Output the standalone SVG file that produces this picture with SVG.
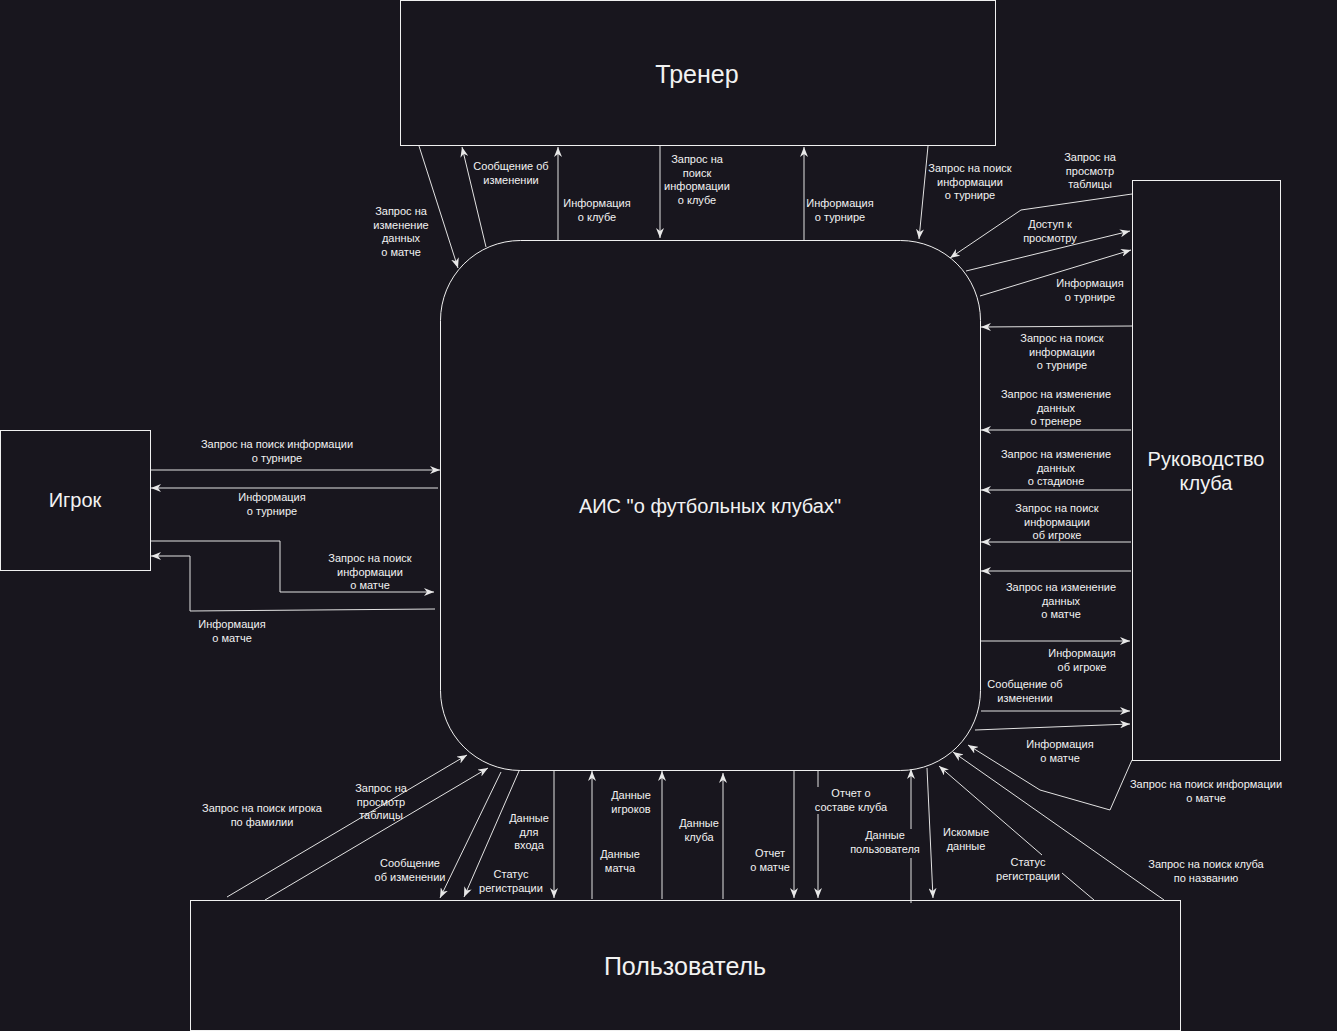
<svg xmlns="http://www.w3.org/2000/svg" width="1337" height="1031" viewBox="0 0 1337 1031">
<style>
.n{fill:#18161e;stroke:#f0f0f0;stroke-width:1}
.t{font-family:"Liberation Sans",Arial,sans-serif;fill:#f2f2f2;text-anchor:middle}
.big{font-size:25px}
.mid{font-size:20px}
.l{font-size:11px}
.c{fill:none;stroke:#e2e2e2;stroke-width:1;marker-end:url(#a)}
.s{fill:none;stroke:#e2e2e2;stroke-width:1}
</style>
<defs>
<marker id="a" viewBox="0 0 10 8" refX="10" refY="4" markerWidth="10" markerHeight="8" orient="auto" markerUnits="userSpaceOnUse">
<path d="M0,0 L10,4 L0,8 L3,4 Z" fill="#e8e8e8"/>
</marker>
</defs>
<rect x="0" y="0" width="1337" height="1031" fill="#18161e"/>

<g id="trainer"><rect class="n" x="400.5" y="0.5" width="595" height="145"/><text class="t big" x="697" y="83">Тренер</text></g>
<g id="system"><rect class="n" x="440.5" y="240.5" width="540" height="530" rx="80" ry="80"/><text class="t mid" x="710" y="513">АИС "о футбольных клубах"</text></g>
<g id="management"><rect class="n" x="1132.5" y="180.5" width="148" height="580"/><text class="t mid" x="1206" y="466"><tspan x="1206">Руководство</tspan><tspan x="1206" dy="24">клуба</tspan></text></g>
<g id="player"><rect class="n" x="0.5" y="430.5" width="150" height="140"/><text class="t mid" x="75" y="507">Игрок</text></g>
<g id="user"><rect class="n" x="190.5" y="900.5" width="990" height="130"/><text class="t big" x="685" y="975">Пользователь</text></g>

<g id="connectors">
<line class="c" x1="419" y1="146" x2="458" y2="268"/>
<line class="c" x1="486" y1="247" x2="462" y2="147"/>
<line class="c" x1="558" y1="240" x2="558" y2="147"/>
<line class="c" x1="660" y1="146" x2="660" y2="238"/>
<line class="c" x1="804" y1="240" x2="804" y2="147"/>
<line class="c" x1="928" y1="146" x2="919" y2="239"/>
<polyline class="c" points="1132,194 1021,210 950,258"/>
<line class="c" x1="966" y1="271" x2="1130" y2="231"/>
<line class="c" x1="980" y1="296" x2="1131" y2="250"/>
<line class="c" x1="1132" y1="326" x2="981" y2="327"/>
<line class="c" x1="1131" y1="430" x2="981" y2="430"/>
<line class="c" x1="1131" y1="490" x2="981" y2="490"/>
<line class="c" x1="1131" y1="542" x2="981" y2="542"/>
<line class="c" x1="1131" y1="571" x2="981" y2="571"/>
<line class="c" x1="981" y1="641" x2="1130" y2="641"/>
<line class="c" x1="981" y1="711" x2="1130" y2="711"/>
<line class="c" x1="975" y1="730" x2="1130" y2="724"/>
<polyline class="c" points="1132,760 1110,810 1040,790 968,745"/>
<line class="c" x1="151" y1="470" x2="440" y2="470"/>
<line class="c" x1="438" y1="488" x2="151" y2="488"/>
<polyline class="c" points="151,541 280,541 280,592 434,592"/>
<polyline class="c" points="435,609 190,611 190,556 151,556"/>
<line class="c" x1="227" y1="897" x2="467" y2="755"/>
<line class="c" x1="265" y1="900" x2="488" y2="768"/>
<line class="c" x1="501" y1="772" x2="440" y2="898"/>
<line class="c" x1="519" y1="771" x2="464" y2="897"/>
<line class="c" x1="554" y1="771" x2="554" y2="898"/>
<line class="c" x1="592" y1="899" x2="592" y2="771"/>
<line class="c" x1="662" y1="899" x2="662" y2="771"/>
<line class="c" x1="723" y1="899" x2="723" y2="773"/>
<line class="c" x1="794" y1="771" x2="794" y2="898"/>
<line class="s" x1="818" y1="770" x2="818" y2="787"/>
<line class="c" x1="818" y1="814" x2="818" y2="898"/>
<line class="s" x1="911" y1="903" x2="911" y2="858"/>
<line class="c" x1="911" y1="829" x2="911" y2="769"/>
<line class="c" x1="927" y1="768" x2="933" y2="898"/>
<line class="s" x1="1094" y1="900" x2="1062" y2="873"/>
<line class="c" x1="1042" y1="855" x2="939" y2="766"/>
<line class="c" x1="1164" y1="900" x2="953" y2="752"/>
</g>

<g id="labels" class="t l">
<text x="401" y="215"><tspan x="401">Запрос на</tspan><tspan x="401" dy="13.5">изменение</tspan><tspan x="401" dy="13.5">данных</tspan><tspan x="401" dy="13.5">о матче</tspan></text>
<text x="511" y="170"><tspan x="511">Сообщение об</tspan><tspan x="511" dy="13.5">изменении</tspan></text>
<text x="597" y="207"><tspan x="597">Информация</tspan><tspan x="597" dy="13.5">о клубе</tspan></text>
<text x="697" y="163"><tspan x="697">Запрос на</tspan><tspan x="697" dy="13.5">поиск</tspan><tspan x="697" dy="13.5">информации</tspan><tspan x="697" dy="13.5">о клубе</tspan></text>
<text x="840" y="207"><tspan x="840">Информация</tspan><tspan x="840" dy="13.5">о турнире</tspan></text>
<text x="970" y="172"><tspan x="970">Запрос на поиск</tspan><tspan x="970" dy="13.5">информации</tspan><tspan x="970" dy="13.5">о турнире</tspan></text>

<text x="1090" y="161"><tspan x="1090">Запрос на</tspan><tspan x="1090" dy="13.5">просмотр</tspan><tspan x="1090" dy="13.5">таблицы</tspan></text>
<text x="1050" y="228"><tspan x="1050">Доступ к</tspan><tspan x="1050" dy="13.5">просмотру</tspan></text>
<text x="1090" y="287"><tspan x="1090">Информация</tspan><tspan x="1090" dy="13.5">о турнире</tspan></text>
<text x="1062" y="342"><tspan x="1062">Запрос на поиск</tspan><tspan x="1062" dy="13.5">информации</tspan><tspan x="1062" dy="13.5">о турнире</tspan></text>
<text x="1056" y="398"><tspan x="1056">Запрос на изменение</tspan><tspan x="1056" dy="13.5">данных</tspan><tspan x="1056" dy="13.5">о тренере</tspan></text>
<text x="1056" y="458"><tspan x="1056">Запрос на изменение</tspan><tspan x="1056" dy="13.5">данных</tspan><tspan x="1056" dy="13.5">о стадионе</tspan></text>
<text x="1057" y="512"><tspan x="1057">Запрос на поиск</tspan><tspan x="1057" dy="13.5">информации</tspan><tspan x="1057" dy="13.5">об игроке</tspan></text>
<text x="1061" y="591"><tspan x="1061">Запрос на изменение</tspan><tspan x="1061" dy="13.5">данных</tspan><tspan x="1061" dy="13.5">о матче</tspan></text>
<text x="1082" y="657"><tspan x="1082">Информация</tspan><tspan x="1082" dy="13.5">об игроке</tspan></text>
<text x="1025" y="688"><tspan x="1025">Сообщение об</tspan><tspan x="1025" dy="13.5">изменении</tspan></text>
<text x="1060" y="748"><tspan x="1060">Информация</tspan><tspan x="1060" dy="13.5">о матче</tspan></text>
<text x="1206" y="788"><tspan x="1206">Запрос на поиск информации</tspan><tspan x="1206" dy="13.5">о матче</tspan></text>

<text x="277" y="448"><tspan x="277">Запрос на поиск информации</tspan><tspan x="277" dy="13.5">о турнире</tspan></text>
<text x="272" y="501"><tspan x="272">Информация</tspan><tspan x="272" dy="13.5">о турнире</tspan></text>
<text x="370" y="562"><tspan x="370">Запрос на поиск</tspan><tspan x="370" dy="13.5">информации</tspan><tspan x="370" dy="13.5">о матче</tspan></text>
<text x="232" y="628"><tspan x="232">Информация</tspan><tspan x="232" dy="13.5">о матче</tspan></text>

<text x="262" y="812"><tspan x="262">Запрос на поиск игрока</tspan><tspan x="262" dy="13.5">по фамилии</tspan></text>
<text x="381" y="792"><tspan x="381">Запрос на</tspan><tspan x="381" dy="13.5">просмотр</tspan><tspan x="381" dy="13.5">таблицы</tspan></text>
<text x="410" y="867"><tspan x="410">Сообщение</tspan><tspan x="410" dy="13.5">об изменении</tspan></text>
<text x="511" y="878"><tspan x="511">Статус</tspan><tspan x="511" dy="13.5">регистрации</tspan></text>
<text x="529" y="822"><tspan x="529">Данные</tspan><tspan x="529" dy="13.5">для</tspan><tspan x="529" dy="13.5">входа</tspan></text>
<text x="620" y="858"><tspan x="620">Данные</tspan><tspan x="620" dy="13.5">матча</tspan></text>
<text x="631" y="799"><tspan x="631">Данные</tspan><tspan x="631" dy="13.5">игроков</tspan></text>
<text x="699" y="827"><tspan x="699">Данные</tspan><tspan x="699" dy="13.5">клуба</tspan></text>
<text x="770" y="857"><tspan x="770">Отчет</tspan><tspan x="770" dy="13.5">о матче</tspan></text>
<text x="851" y="797"><tspan x="851">Отчет о</tspan><tspan x="851" dy="13.5">составе клуба</tspan></text>
<text x="885" y="839"><tspan x="885">Данные</tspan><tspan x="885" dy="13.5">пользователя</tspan></text>
<text x="966" y="836"><tspan x="966">Искомые</tspan><tspan x="966" dy="13.5">данные</tspan></text>
<text x="1028" y="866"><tspan x="1028">Статус</tspan><tspan x="1028" dy="13.5">регистрации</tspan></text>
<text x="1206" y="868"><tspan x="1206">Запрос на поиск клуба</tspan><tspan x="1206" dy="13.5">по названию</tspan></text>
</g>
</svg>
